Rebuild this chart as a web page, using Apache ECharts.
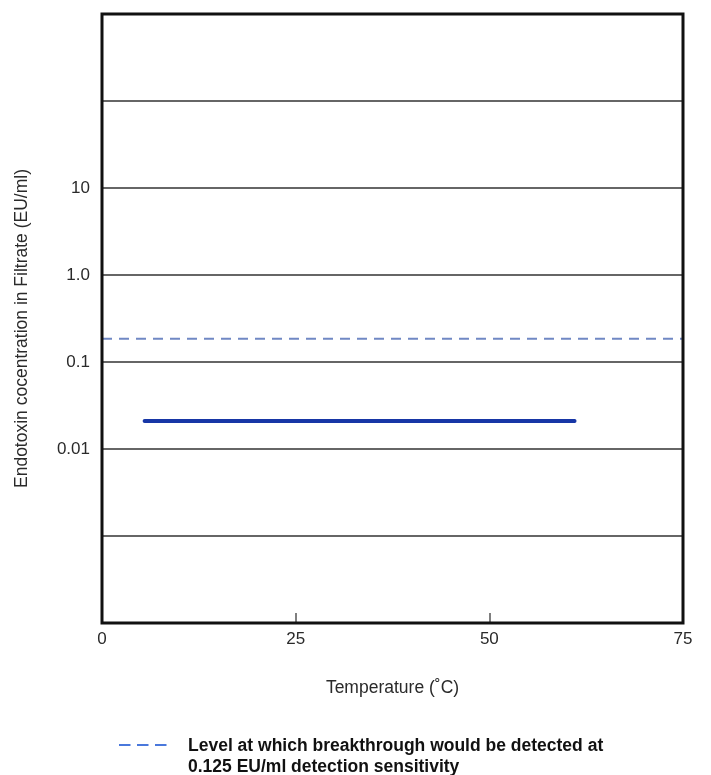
<!DOCTYPE html>
<html>
<head>
<meta charset="utf-8">
<script src="https://cdn.jsdelivr.net/npm/echarts@6/dist/echarts.min.js"></script>
<style>
  html, body { margin: 0; padding: 0; background: #fff; }
  #chart { width: 711px; height: 775px; }
</style>
</head>
<body>
<div id="chart"></div>
<script>
// Temperature axis (°C)
const xTicks = [0, 25, 50, 75];
// Decades that carry a printed label on the concentration axis
const yLabelValues = [10, 1, 0.1, 0.01];
const yLabelTexts = ['10', '1.0', '0.1', '0.01'];

// Measured endotoxin level in filtrate across the tested temperature span
const measuredTemps = [5.5, 61];
const measuredConc = [0.021, 0.021];

// Breakthrough detection level (dashed reference)
const detectTemps = [0, 75];
const detectConc = [0.185, 0.185];

const legendLine1 = 'Level at which breakthrough would be detected at';
const legendLine2 = '0.125 EU/ml detection sensitivity';

const font = "'Liberation Sans', Arial, Helvetica, sans-serif";

const GRID = { left: 102, right: 28, top: 14, bottom: 152 };
const W = 711, H = 775;

const chart = echarts.init(document.getElementById('chart'));

function labelFor(v) {
  for (let i = 0; i < yLabelValues.length; i++) {
    if (Math.abs(Math.log10(v) - Math.log10(yLabelValues[i])) < 1e-6) return yLabelTexts[i];
  }
  return '';
}

chart.setOption({
  animation: false,
  backgroundColor: '#fff',
  grid: {
    left: GRID.left, right: GRID.right, top: GRID.top, bottom: GRID.bottom,
    show: false
  },
  xAxis: {
    type: 'value',
    min: xTicks[0], max: xTicks[xTicks.length - 1], interval: 25,
    axisLine: { show: false },
    axisTick: { show: true, inside: true, length: 10, lineStyle: { color: '#555', width: 1.5 } },
    splitLine: { show: false },
    axisLabel: { fontFamily: font, fontSize: 17, color: '#2a2a2a', margin: 8 },
    name: 'Temperature (˚C)',
    nameLocation: 'middle', nameGap: 56,
    nameTextStyle: { fontFamily: font, fontSize: 17.5, color: '#2a2a2a' }
  },
  yAxis: {
    type: 'log', logBase: 10, min: 1e-4, max: 1e3,
    axisLine: { show: false },
    axisTick: { show: false },
    splitLine: { show: true, lineStyle: { color: '#666', width: 1.8 } },
    axisLabel: { fontFamily: font, fontSize: 17, color: '#2a2a2a', margin: 12, formatter: labelFor },
    name: 'Endotoxin cocentration in Filtrate (EU/ml)',
    nameLocation: 'middle', nameGap: 71, nameRotate: 90,
    nameTextStyle: { fontFamily: font, fontSize: 17.5, color: '#2a2a2a', padding: [0, 20, 0, 0] }
  },
  series: [
    {
      type: 'line',
      data: detectTemps.map((t, i) => [t, detectConc[i]]),
      symbol: 'none',
      lineStyle: { color: '#7088c4', width: 2, type: [10, 7] },
      z: 3
    },
    {
      type: 'line',
      data: measuredTemps.map((t, i) => [t, measuredConc[i]]),
      symbol: 'none',
      lineStyle: { color: '#1736a6', width: 4, cap: 'round' },
      z: 4
    }
  ],
  graphic: [
    {
      // plot frame
      type: 'rect',
      z: 100,
      shape: { x: GRID.left, y: GRID.top, width: W - GRID.left - GRID.right, height: H - GRID.top - GRID.bottom },
      style: { fill: null, stroke: '#111', lineWidth: 3 }
    },
    {
      type: 'line',
      shape: { x1: 119, y1: 745, x2: 167, y2: 745 },
      style: { stroke: '#4a78dc', lineWidth: 2, lineDash: [11.5, 6.5] }
    },
    {
      type: 'text',
      left: 188, top: 736,
      style: {
        text: legendLine1 + '\n' + legendLine2,
        font: 'bold 17.5px ' + font,
        fill: '#111',
        lineHeight: 21
      }
    }
  ]
});
</script>
</body>
</html>
